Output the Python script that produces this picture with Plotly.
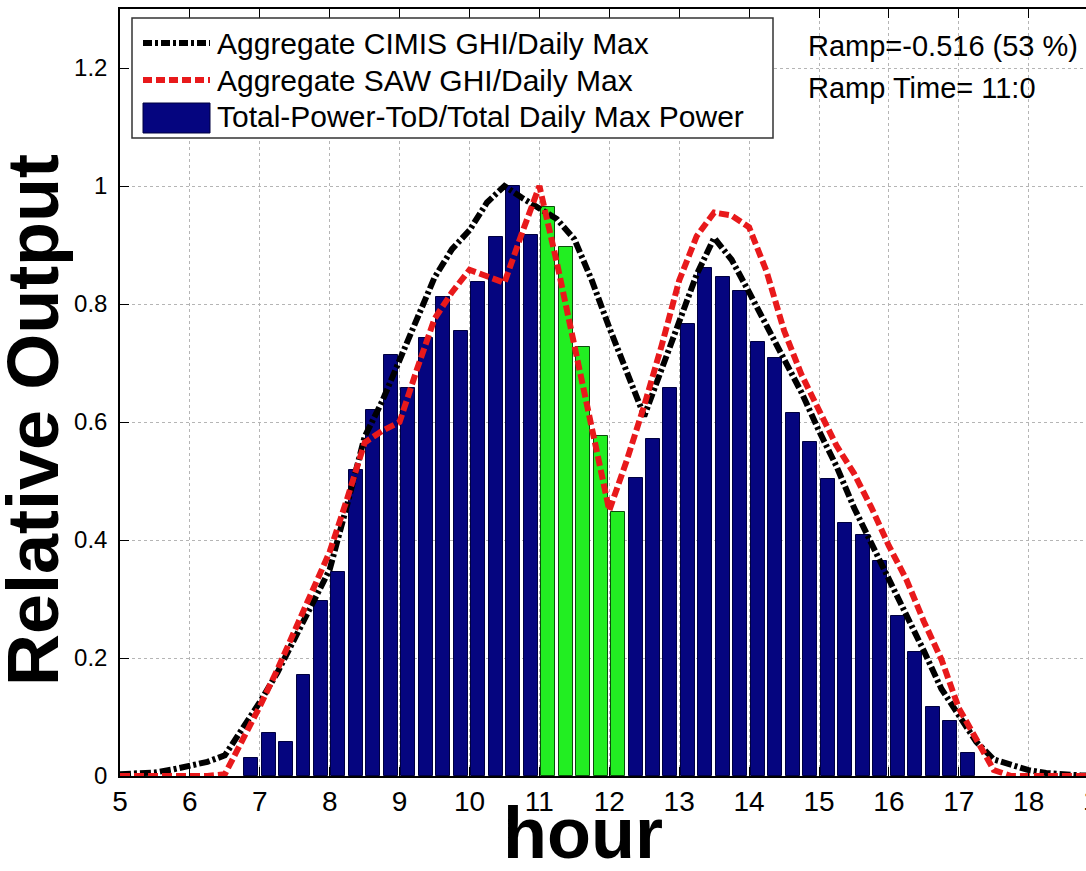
import plotly.graph_objects as go

# ---------------- data ----------------
hours = [5 + 0.25 * i for i in range(57)]  # 5:00 .. 19:00, 15-min steps

cimis_ghi = [0.003, 0.004, 0.006, 0.011, 0.018, 0.024, 0.035, 0.08, 0.125,
             0.175, 0.232, 0.29, 0.35, 0.46, 0.575, 0.635, 0.705, 0.775, 0.845,
             0.893, 0.925, 0.972, 1.0, 0.98, 0.963, 0.944, 0.91, 0.84, 0.76,
             0.686, 0.61, 0.69, 0.77, 0.85, 0.912, 0.875, 0.82, 0.765, 0.705,
             0.65, 0.585, 0.525, 0.455, 0.395, 0.33, 0.275, 0.212, 0.148, 0.105,
             0.058, 0.028, 0.02, 0.01, 0.005, 0.002, 0.001, 0.0]

saw_ghi = [0, 0, 0, 0, 0, 0, 0.003, 0.06, 0.118,
           0.18, 0.245, 0.31, 0.38, 0.47, 0.565, 0.585, 0.6, 0.69, 0.775,
           0.82, 0.858, 0.847, 0.836, 0.92, 1.0, 0.87, 0.73, 0.6, 0.45,
           0.535, 0.628, 0.73, 0.84, 0.915, 0.955, 0.95, 0.93, 0.855, 0.755,
           0.68, 0.62, 0.56, 0.513, 0.455, 0.39, 0.333, 0.262, 0.198, 0.115,
           0.06, 0.01, 0, 0, 0, 0, 0, 0]

bar_hours = [6.875 + 0.25 * i for i in range(42)]
power_tod = [0.03, 0.073, 0.058, 0.171, 0.297, 0.346, 0.519, 0.62, 0.713,
             0.657, 0.742, 0.812, 0.754, 0.837, 0.913, 1.0, 0.917,
             0.965, 0.897, 0.727, 0.576, 0.447,
             0.505, 0.571, 0.657, 0.766, 0.861, 0.845, 0.822, 0.736, 0.708,
             0.615, 0.566, 0.503, 0.429, 0.408, 0.364, 0.271, 0.21, 0.117,
             0.093, 0.039]

ramp_start, ramp_end = 11.0, 12.25
ramp_text = ["Ramp=-0.516 (53 %)", "Ramp Time= 11:0"]
legend_labels = ["Aggregate CIMIS GHI/Daily Max",
                 "Aggregate SAW GHI/Daily Max",
                 "Total-Power-ToD/Total Daily Max Power"]

x_ticks = list(range(5, 19))
y_ticks = [0, 0.2, 0.4, 0.6, 0.8, 1.0, 1.2]

# ---------------- styling ----------------
NAVY = "#05057f"
GREEN = "#22ee22"
RED = "#e8191b"
FONT = "Liberation Sans, Arial, sans-serif"

W_FIG, H_FIG = 1086, 871
L, R, T, B = 120, 1086, 9, 776
X0, PX_PER_H = 5.0, 69.9
x_max = X0 + (R - L) / PX_PER_H


def px(x):
    return (x - L) / (R - L)


def py(y):
    return (B - y) / (B - T)


bar_colors = [GREEN if ramp_start <= h < ramp_end else NAVY for h in bar_hours]
bar_edges = ["#0b4d0b" if ramp_start <= h < ramp_end else "#000040" for h in bar_hours]

fig = go.Figure()
fig.add_trace(go.Bar(x=bar_hours, y=power_tod, width=0.2,
                     marker=dict(color=bar_colors, line=dict(color=bar_edges, width=1)),
                     showlegend=False))
fig.add_trace(go.Scatter(x=hours, y=cimis_ghi, mode="lines",
                         line=dict(color="black", width=6, dash="11px,3px,3px,3px"),
                         showlegend=False))
fig.add_trace(go.Scatter(x=hours, y=saw_ghi, mode="lines",
                         line=dict(color=RED, width=6, dash="10px,4px"),
                         showlegend=False))

shapes = []
annotations = []

# manual legend box
shapes.append(dict(type="rect", xref="paper", yref="paper",
                   x0=px(132), x1=px(773), y0=py(138), y1=py(18),
                   fillcolor="white", line=dict(color="#333333", width=1.5), layer="above"))
shapes.append(dict(type="line", xref="paper", yref="paper",
                   x0=px(143), x1=px(210), y0=py(43), y1=py(43),
                   line=dict(color="black", width=6, dash="9px,3px,3px,3px"), layer="above"))
shapes.append(dict(type="line", xref="paper", yref="paper",
                   x0=px(143), x1=px(210), y0=py(80), y1=py(80),
                   line=dict(color=RED, width=6, dash="9px,4px"), layer="above"))
shapes.append(dict(type="rect", xref="paper", yref="paper",
                   x0=px(143), x1=px(210), y0=py(133), y1=py(103),
                   fillcolor=NAVY, line=dict(color="#000040", width=1), layer="above"))
for lbl, yy in zip(legend_labels, [43, 80, 117]):
    annotations.append(dict(text=lbl, xref="paper", yref="paper", x=px(215), y=py(yy),
                            xanchor="left", yanchor="middle", showarrow=False,
                            font=dict(family=FONT, size=30, color="black")))

for txt, yy in zip(ramp_text, [46, 88]):
    annotations.append(dict(text=txt, xref="paper", yref="paper", x=px(806), y=py(yy),
                            xanchor="left", yanchor="middle", showarrow=False,
                            font=dict(family=FONT, size=29, color="black")))

# partially visible "19" tick label at right edge
annotations.append(dict(text="19", xref="paper", yref="paper",
                        x=(19 - X0) / (x_max - X0), y=py(800),
                        xanchor="center", yanchor="middle", showarrow=False,
                        font=dict(family=FONT, size=28, color="black")))

# axis titles
annotations.append(dict(text="<b>hour</b>", xref="paper", yref="paper", x=px(583), y=py(833),
                        xanchor="center", yanchor="middle", showarrow=False,
                        font=dict(family=FONT, size=72, color="black")))
annotations.append(dict(text="<b>Relative Output</b>", xref="paper", yref="paper",
                        x=px(33), y=py(420), textangle=-90,
                        xanchor="center", yanchor="middle", showarrow=False,
                        font=dict(family=FONT, size=72, color="black")))

fig.update_layout(
    width=W_FIG, height=H_FIG,
    margin=dict(l=L, r=W_FIG - R, t=T, b=H_FIG - B, autoexpand=False),
    paper_bgcolor="white", plot_bgcolor="white",
    bargap=0, showlegend=False,
    shapes=shapes, annotations=annotations,
    font=dict(family=FONT, color="black"),
)
fig.update_xaxes(range=[X0, x_max], tickvals=x_ticks, ticktext=[str(t) for t in x_ticks],
                 ticks="inside", ticklen=9, tickcolor="black",
                 showline=True, linecolor="black", linewidth=1.5, mirror="ticks",
                 showgrid=True, gridcolor="#b5b5b5", griddash="dot", gridwidth=1,
                 zeroline=False, tickfont=dict(family=FONT, size=28, color="black"))
fig.update_yaxes(range=[0, 1.3], tickvals=y_ticks, ticktext=["0", "0.2", "0.4", "0.6", "0.8", "1", "1.2"],
                 ticks="inside", ticklen=9, tickcolor="black",
                 showline=True, linecolor="black", linewidth=1.5, mirror=False,
                 showgrid=True, gridcolor="#b5b5b5", griddash="dot", gridwidth=1,
                 zeroline=False, ticklabelstandoff=6,
                 tickfont=dict(family=FONT, size=24, color="black"))

fig.write_html("out.html")
